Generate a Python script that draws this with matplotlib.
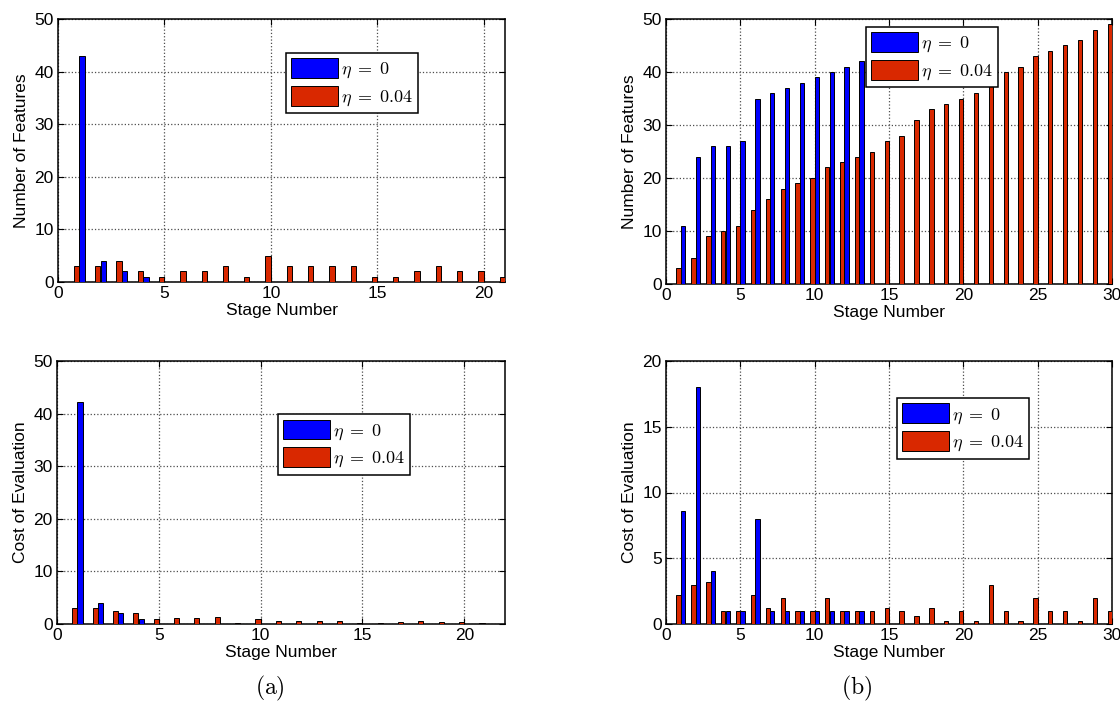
import matplotlib
matplotlib.use('Agg')
import matplotlib.pyplot as plt
import numpy as np

# stage-wise values
stages_a = np.arange(1, 22)
feat_a_eta004 = [3, 3, 4, 2, 1, 2, 2, 3, 1, 5, 3, 3, 3, 3, 1, 1, 2, 3, 2, 2, 1]
stages_a_eta0 = np.arange(1, 5)
feat_a_eta0 = [43, 4, 2, 1]

cost_a_eta004 = [3, 3, 2.4, 2, 1, 1.2, 1.2, 1.4, 0.2, 1, 0.6, 0.6, 0.6, 0.6,
                 0.2, 0.2, 0.4, 0.6, 0.4, 0.4, 0.2]
cost_a_eta0 = [42.2, 4, 2, 1]

stages_b = np.arange(1, 31)
feat_b_eta004 = [3, 5, 9, 10, 11, 14, 16, 18, 19, 20, 22, 23, 24, 25, 27,
                 28, 31, 33, 34, 35, 36, 38, 40, 41, 43, 44, 45, 46, 48, 49]
stages_b_eta0 = np.arange(1, 14)
feat_b_eta0 = [11, 24, 26, 26, 27, 35, 36, 37, 38, 39, 40, 41, 42]

cost_b_eta004 = [2.2, 3, 3.2, 1, 1, 2.2, 1.2, 2, 1, 1, 2, 1, 1, 1, 1.2,
                 1, 0.6, 1.2, 0.2, 1, 0.2, 3, 1, 0.2, 2, 1, 1, 0.2, 2, 1]
cost_b_eta0 = [8.6, 18, 4, 1, 1, 8, 1, 1, 1, 1, 1, 1, 1]

BLUE = '#0000ff'
RED = '#d92800'

plt.rcParams['font.family'] = ['Liberation Sans', 'DejaVu Sans']
plt.rcParams['mathtext.fontset'] = 'cm'

fig = plt.figure(figsize=(11.2, 7.09), dpi=100)
ax_at = fig.add_axes([58 / 1120, 1 - 282 / 709, 447 / 1120, 263 / 709])
ax_bt = fig.add_axes([666 / 1120, 1 - 284 / 709, 446 / 1120, 265 / 709])
ax_ab = fig.add_axes([57 / 1120, 1 - 624 / 709, 448 / 1120, 263 / 709])
ax_bb = fig.add_axes([666 / 1120, 1 - 624 / 709, 446 / 1120, 263 / 709])


def draw(ax, x_red, red, x_blue, blue, xmax, ymax, ystep, ylabel, leg_xy, width, off):
    ax.bar(np.asarray(x_red) - off, red, width=width, color=RED,
           edgecolor='black', linewidth=0.7, label=r'$\eta\;=\;0.04$', zorder=3)
    ax.bar(np.asarray(x_blue) + off, blue, width=width, color=BLUE,
           edgecolor='black', linewidth=0.7, label=r'$\eta\;=\;0$', zorder=3)
    ax.set_xlim(0, xmax)
    ax.set_ylim(0, ymax)
    ax.set_xticks(np.arange(0, xmax + 0.01, 5))
    ax.set_yticks(np.arange(0, ymax + 0.01, ystep))
    ax.tick_params(direction='in', top=True, right=True, length=4,
                   labelsize=12.5, pad=3)
    ax.grid(True, color='0.3', linestyle=':', linewidth=0.9, zorder=0)
    for s in ax.spines.values():
        s.set_linewidth(1.1)
    ax.set_xlabel('Stage Number', fontsize=12.5, labelpad=1)
    ax.set_ylabel(ylabel, fontsize=12.5, labelpad=4)
    h, l = ax.get_legend_handles_labels()
    leg = ax.legend(h[::-1], l[::-1], loc='upper left', bbox_to_anchor=leg_xy,
                    fontsize=13, fancybox=False, edgecolor='black',
                    framealpha=1, handlelength=2.6, handleheight=1.3,
                    handletextpad=0.15, labelspacing=0.3, borderpad=0.3,
                    borderaxespad=0)
    leg.get_frame().set_linewidth(1.1)
    leg.set_zorder(5)


draw(ax_at, stages_a, feat_a_eta004, stages_a_eta0, feat_a_eta0, 21, 50, 10,
     'Number of Features', (0.51, 0.871), 0.25, 0.13)
draw(ax_bt, stages_b, feat_b_eta004, stages_b_eta0, feat_b_eta0, 30, 50, 10,
     'Number of Features', (0.448, 0.970), 0.29, 0.15)
draw(ax_ab, stages_a, cost_a_eta004, stages_a_eta0, cost_a_eta0, 22, 50, 10,
     'Cost of Evaluation', (0.493, 0.798), 0.25, 0.13)
draw(ax_bb, stages_b, cost_b_eta004, stages_b_eta0, cost_b_eta0, 30, 20, 5,
     'Cost of Evaluation', (0.518, 0.859), 0.29, 0.15)

fig.text(270 / 1120, 1 - 688 / 709, r'$\mathrm{(a)}$', fontsize=17,
         ha='center', va='center')
fig.text(857 / 1120, 1 - 688 / 709, r'$\mathrm{(b)}$', fontsize=17,
         ha='center', va='center')

fig.savefig('out.png', dpi=100)
